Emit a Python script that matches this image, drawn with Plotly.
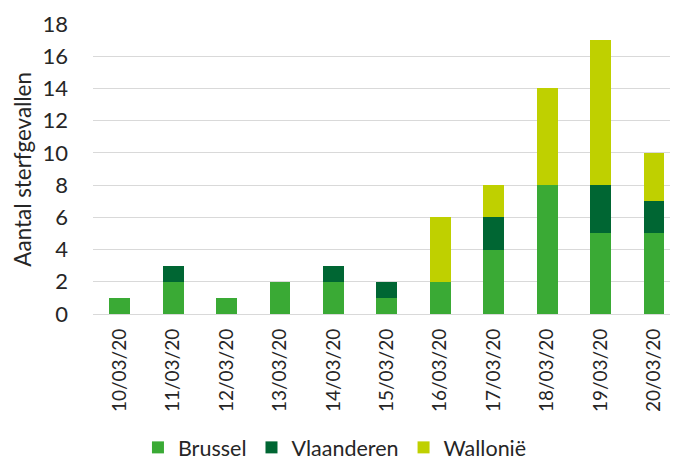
import plotly.graph_objects as go

dates = ['10/03/20', '11/03/20', '12/03/20', '13/03/20', '14/03/20', '15/03/20',
         '16/03/20', '17/03/20', '18/03/20', '19/03/20', '20/03/20']
brussel = [1, 2, 1, 2, 2, 1, 2, 4, 8, 5, 5]
vlaanderen = [0, 1, 0, 0, 1, 1, 0, 2, 0, 3, 2]
wallonie = [0, 0, 0, 0, 0, 0, 4, 2, 6, 9, 3]

series = [
    ('Brussel', brussel, '#3aaa35'),
    ('Vlaanderen', vlaanderen, '#006633'),
    ('Wallonië', wallonie, '#bfd000'),
]

fig = go.Figure()
for name, vals, col in series:
    fig.add_trace(go.Bar(x=dates, y=vals, name=name,
                         marker=dict(color=col, line=dict(width=0))))

font = 'Lato, Carlito, Calibri, sans-serif'
fig.update_layout(
    barmode='stack',
    bargap=0.61,
    width=670, height=453,
    margin=dict(l=85, r=0, t=16, b=147, autoexpand=False),
    paper_bgcolor='white',
    plot_bgcolor='white',
    font=dict(family=font, size=22, color='#262626'),
    legend=dict(orientation='h', traceorder='normal', xref='container',
                x=0.488, xanchor='center', y=-0.46, yanchor='middle',
                font=dict(size=21.5)),
    xaxis=dict(range=[-0.5, 10.45], tickangle=-90, showgrid=False,
               showline=False, ticks='', ticklabelstandoff=10,
               tickfont=dict(size=19)),
    yaxis=dict(range=[0, 18], dtick=2, showgrid=True, gridcolor='#d9d9d9',
               gridwidth=1, zeroline=True, zerolinecolor='#d9d9d9',
               zerolinewidth=1, showline=False, ticks='',
               ticklabelstandoff=24),
)

# y axis title as an annotation (axis title misplaces with autoexpand off)
fig.add_annotation(text='Aantal sterfgevallen', textangle=-90,
                   xref='paper', yref='paper', x=-0.122, y=0.5,
                   xanchor='center', yanchor='middle', showarrow=False,
                   borderpad=0, font=dict(size=22.4))

fig.write_html('out.html')
